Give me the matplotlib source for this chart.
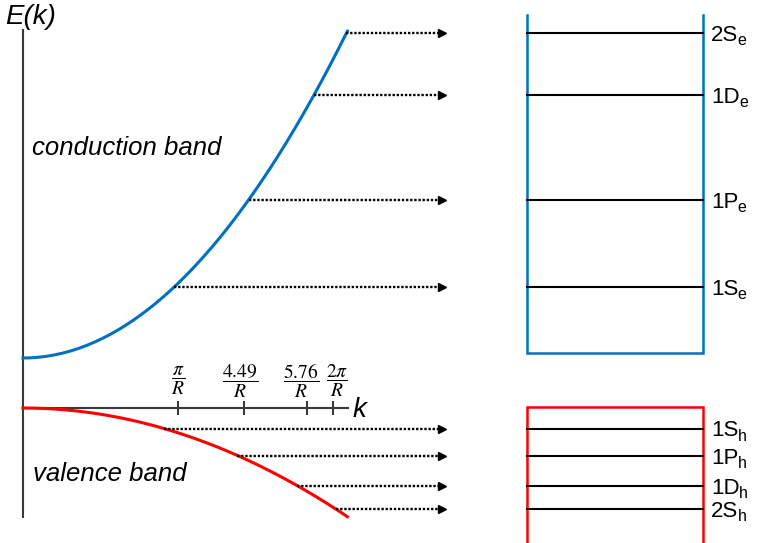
import numpy as np
import matplotlib
matplotlib.use("Agg")
import matplotlib.pyplot as plt

plt.rcParams["font.family"] = ["Liberation Sans", "DejaVu Sans"]

# --- band model (k in units of 1/R, energy in arbitrary units) ---
gap_energy = 1.0          # conduction band minimum
cb_curvature = 0.151      # E_c = gap + a k^2
vb_curvature = 0.0502     # E_v = -b k^2
k_max = 6.58

# --- tick marks on the k axis ---
k_tick_values = [np.pi, 4.49, 5.76, 2 * np.pi]
k_tick_labels = [r"$\dfrac{\pi}{R}$", r"$\dfrac{4.49}{R}$", r"$\dfrac{5.76}{R}$", r"$\dfrac{2\pi}{R}$"]

# --- quantized levels ---
electron_names = ["1S", "1P", "1D", "2S"]
electron_levels = [2.42, 4.16, 6.26, 7.50]
hole_names = ["1S", "1P", "1D", "2S"]
hole_levels = [-0.41, -0.95, -1.55, -2.02]

BLUE = "#0070C0"
RED = "#FF0000"
AXIS = "#3a3a3a"

fig = plt.figure(figsize=(7.57, 5.43), dpi=100)
ax = fig.add_axes([0, 0, 1, 1])
ax.set_xlim(-0.4665, 14.888)
ax.set_ylim(-2.7, 8.16)
ax.axis("off")

# axes of the E(k) diagram
ax.plot([0, 0], [-2.2, 7.58], color=AXIS, lw=1.5, solid_capstyle="butt")
ax.plot([0, 6.61], [0, 0], color=AXIS, lw=1.5, solid_capstyle="butt")
for kt in k_tick_values:
    ax.plot([kt, kt], [-0.12, 0.12], color=AXIS, lw=1.5)
ax.text(-0.37, 8.08, "E(k)", fontsize=20, style="italic", va="top", ha="left")
ax.text(6.69, -0.18, "k", fontsize=20, style="italic", va="baseline", ha="left")

# tick labels (small nudges keep the two rightmost fractions apart)
label_nudge = [0, -3, -4, 3]
for kt, lab, dx in zip(k_tick_values, k_tick_labels, label_nudge):
    ax.annotate(lab, xy=(kt, 0.54), xytext=(dx, 0), textcoords="offset points",
                ha="center", va="center", fontsize=14, math_fontfamily="stix")

# bands
k = np.linspace(0, k_max, 300)
ax.plot(k, gap_energy + cb_curvature * k ** 2, color=BLUE, lw=2.2)
ax.plot(k, -vb_curvature * k ** 2, color=RED, lw=2.2)

ax.text(0.183, 5.2, "conduction band", fontsize=18.5, style="italic", va="center", ha="left")
ax.text(0.203, -1.32, "valence band", fontsize=18.5, style="italic", va="center", ha="left")

# dotted arrows from the band curve to the level diagram
arrow_end = 8.58
head_off = 0.08
def dotted_arrow(k0, e):
    ax.plot([k0, arrow_end - head_off], [e, e], color="black", lw=1.7,
            ls=(0, (1, 0.75)))
    ax.plot([arrow_end - head_off], [e], marker=">", ms=6, color="black", mec="black")

for e in electron_levels:
    dotted_arrow(np.sqrt((e - gap_energy) / cb_curvature), e)
for e in hole_levels:
    dotted_arrow(np.sqrt(-e / vb_curvature), e)

# level diagrams
box_left, box_right = 10.223, 13.793
ax.plot([box_left, box_left, box_right, box_right], [7.86, 1.1, 1.1, 7.86],
        color=BLUE, lw=1.8, solid_joinstyle="miter")
ax.plot([box_left, box_left, box_right, box_right], [-2.9, 0.02, 0.02, -2.9],
        color=RED, lw=1.8, solid_joinstyle="miter")

label_x = 13.955
def level_label(name, sub, e):
    main = ax.text(label_x, e - 0.16, name, fontsize=16, va="baseline", ha="left")
    ax.annotate(sub, xy=(1, 0), xycoords=main, xytext=(-0.4, 0.6),
                textcoords="offset points", fontsize=11.5, va="baseline", ha="left")

for name, e in zip(electron_names, electron_levels):
    ax.plot([box_left, box_right], [e, e], color="black", lw=1.5)
    level_label(name, "e", e)
for name, e in zip(hole_names, hole_levels):
    ax.plot([box_left, box_right], [e, e], color="black", lw=1.5)
    level_label(name, "h", e)

fig.savefig("out.png", dpi=100)
